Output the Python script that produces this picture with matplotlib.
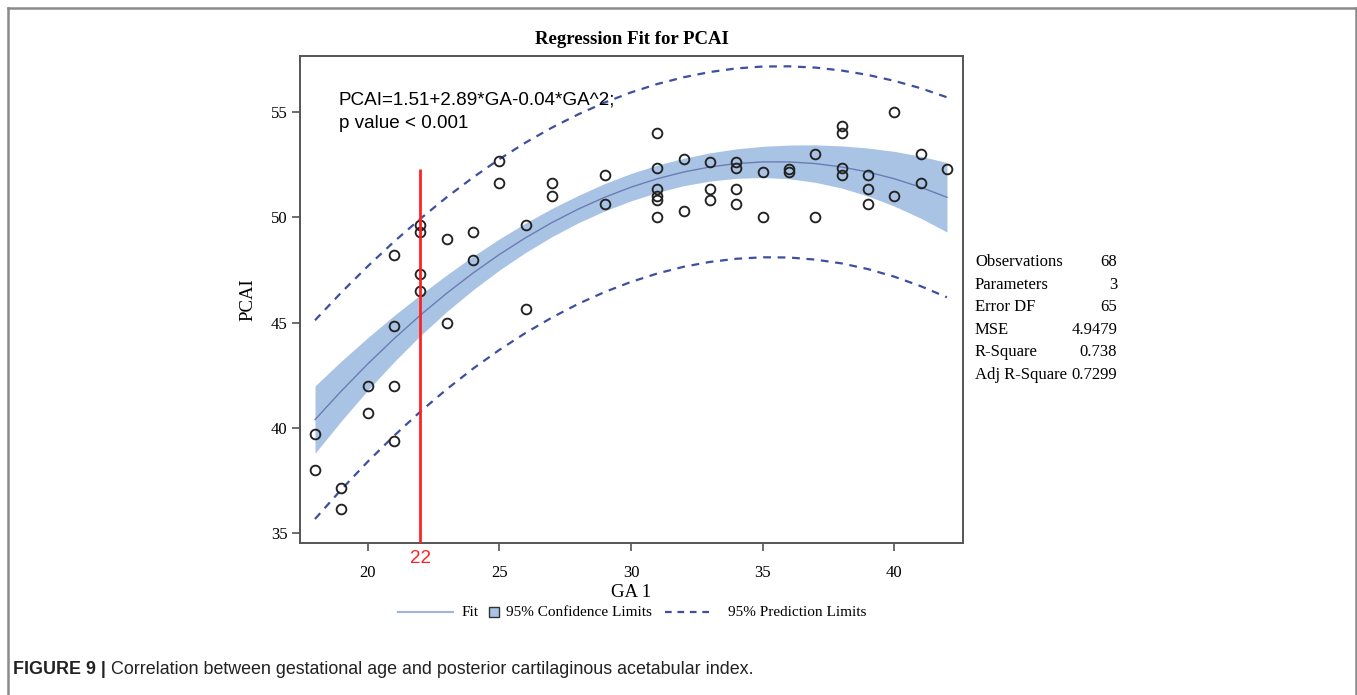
import matplotlib
matplotlib.use('Agg')
import matplotlib.pyplot as plt
from matplotlib.lines import Line2D
from matplotlib.patches import Rectangle
import matplotlib.transforms as mtransforms

ga_obs = [18, 18, 19, 19, 20, 20, 21, 21, 21, 21, 22, 22, 22, 22, 23, 23, 24, 24,
          25, 25, 26, 26, 27, 27, 29, 29, 31, 31, 31, 31, 31, 31, 32, 32, 33, 33, 33,
          34, 34, 34, 34, 35, 35, 36, 36, 37, 37, 38, 38, 38, 38, 39, 39, 39,
          40, 40, 41, 41, 42]
pcai_obs = [39.7, 38.0, 37.15, 36.15, 42.0, 40.7, 48.2, 44.85, 42.0, 39.4,
            49.65, 49.3, 47.3, 46.5, 49.0, 45.0, 49.3, 48.0,
            52.7, 51.65, 49.65, 45.65, 51.65, 51.0, 52.0, 50.65,
            54.0, 52.35, 51.35, 51.0, 50.85, 50.0, 52.8, 50.3, 52.65, 51.35, 50.85,
            52.65, 52.35, 51.35, 50.65, 52.15, 50.0, 52.3, 52.15, 53.0, 50.0,
            54.35, 54.0, 52.35, 52.0, 52.0, 51.35, 50.65,
            55.0, 51.0, 53.0, 51.65, 52.3]

# fitted curve, half width of confidence and prediction limits (read per week)
ga_grid = list(range(18, 43))
fit = [40.40, 41.76, 43.04, 44.24, 45.36, 46.40, 47.36, 48.24, 49.04, 49.76, 50.40, 50.96, 51.44,
       51.84, 52.16, 52.40, 52.56, 52.64, 52.64, 52.56, 52.40, 52.16, 51.84, 51.44, 50.96]
ci_half = [1.60, 1.42, 1.25, 1.10, 0.97, 0.87, 0.80, 0.74, 0.70, 0.67, 0.65, 0.65, 0.65,
           0.65, 0.65, 0.67, 0.70, 0.74, 0.80, 0.89, 1.00, 1.14, 1.30, 1.47, 1.65]
pi_half = [4.72, 4.68, 4.64, 4.61, 4.58, 4.56, 4.54, 4.53, 4.52, 4.51, 4.50, 4.50, 4.50,
           4.50, 4.50, 4.51, 4.52, 4.53, 4.54, 4.56, 4.58, 4.61, 4.65, 4.70, 4.75]

ci_lo = [f - h for f, h in zip(fit, ci_half)]
ci_hi = [f + h for f, h in zip(fit, ci_half)]
pi_lo = [f - h for f, h in zip(fit, pi_half)]
pi_hi = [f + h for f, h in zip(fit, pi_half)]

cutoff_ga = 22
cutoff_top = 52.3

stat_names = ['Observations', 'Parameters', 'Error DF', 'MSE', 'R-Square', 'Adj R-Square']
stat_values = ['68', '3', '65', '4.9479', '0.738', '0.7299']

serif = 'Liberation Serif'
sans = 'Liberation Sans'

W, H = 1357, 695
fig = plt.figure(figsize=(W / 100, H / 100), dpi=100)
ax = fig.add_axes([300 / W, 1 - 543 / H, 663 / W, 487 / H])

band_col = '#a9c3e4'
dash_col = '#3d4f9e'
fit_col = '#6a7db3'
dash = (0, (3.5, 3))

ax.fill_between(ga_grid, ci_lo, ci_hi, color=band_col, lw=0, zorder=1)
ax.plot(ga_grid, fit, color=fit_col, lw=1.0, zorder=2)
ax.plot(ga_grid, pi_lo, color=dash_col, lw=1.6, ls=dash, zorder=2)
ax.plot(ga_grid, pi_hi, color=dash_col, lw=1.6, ls=dash, zorder=2)
ax.plot(ga_obs, pcai_obs, 'o', ms=7, mfc='none', mec='#222222', mew=1.35, zorder=3)

ax.set_xlim(17.43, 42.61)
ax.set_ylim(34.54, 57.67)
ax.vlines(cutoff_ga, ax.get_ylim()[0], cutoff_top, color='#ff2222', lw=2, zorder=4)

trans = mtransforms.blended_transform_factory(ax.transData, ax.transAxes)
ax.text(cutoff_ga, -0.031, str(cutoff_ga), transform=trans, color='#ff2222',
        fontsize=13.5, family=sans, ha='center', va='center')

ax.set_xticks([20, 25, 30, 35, 40])
ax.set_yticks([35, 40, 45, 50, 55])
for s in ax.spines.values():
    s.set_color('#555555')
    s.set_linewidth(1.4)
ax.tick_params(direction='out', length=6, width=1.2, color='#555555', labelsize=12)
ax.tick_params(axis='x', pad=10)
ax.tick_params(axis='y', pad=3)
for lab in ax.get_xticklabels() + ax.get_yticklabels():
    lab.set_family(serif)

ax.set_xlabel('GA 1', family=serif, fontsize=13.5, labelpad=2)
ax.set_ylabel('PCAI', family=serif, fontsize=13.5, labelpad=10)
ax.set_title('Regression Fit for PCAI', family=serif, fontsize=13.5, fontweight='bold', pad=9)

ax.text(39 / 663, 1 - (100 - 56) / 487, 'PCAI=1.51+2.89*GA-0.04*GA^2;',
        transform=ax.transAxes, family=sans, fontsize=13.6, va='center', ha='left')
ax.text(39 / 663, 1 - (124 - 56) / 487, 'p value < 0.001',
        transform=ax.transAxes, family=sans, fontsize=13.6, va='center', ha='left')

# legend under the axis, laid out by hand like the SAS one
ly = 1 - 612 / H
fig.add_artist(Line2D([398 / W, 453 / W], [ly, ly], color='#9fb4d8', lw=1.5, transform=fig.transFigure))
fig.text(462 / W, ly, 'Fit', family=serif, fontsize=11, va='center', ha='left')
fig.add_artist(Rectangle((489 / W, 1 - 617 / H), 10 / W, 10 / H, facecolor=band_col,
                         edgecolor='#333333', lw=1, transform=fig.transFigure))
fig.text(506 / W, ly, '95% Confidence Limits', family=serif, fontsize=11, va='center', ha='left')
fig.add_artist(Line2D([665 / W, 713 / W], [ly, ly], color=dash_col, lw=1.6, ls=(0, (3, 2.6)),
                      transform=fig.transFigure))
fig.text(728 / W, ly, '95% Prediction Limits', family=serif, fontsize=11, va='center', ha='left')

# stats table
for i, (n, v) in enumerate(zip(stat_names, stat_values)):
    y = 1 - (262 + i * 22.6) / H
    fig.text(975 / W, y, n, family=serif, fontsize=12, va='center', ha='left')
    fig.text(1117 / W, y, v, family=serif, fontsize=12, va='center', ha='right')

# outer frame of the figure panel
fcol = '#8a8a8a'
fig.add_artist(Line2D([8 / W, 8 / W], [0, 1 - 8 / H], color=fcol, lw=1.8, transform=fig.transFigure))
fig.add_artist(Line2D([8 / W, 1356 / W], [1 - 8 / H, 1 - 8 / H], color=fcol, lw=1.8, transform=fig.transFigure))
fig.add_artist(Line2D([1356 / W, 1356 / W], [0, 1 - 8 / H], color=fcol, lw=1.8, transform=fig.transFigure))

# caption
t = fig.text(13 / W, 1 - 670 / H, 'FIGURE 9 | ', family=sans, fontsize=12.9, fontweight='bold',
             va='center', ha='left', color='#222222')
fig.canvas.draw()
bb = t.get_window_extent()
fig.text(bb.x1 / W, 1 - 670 / H, 'Correlation between gestational age and posterior cartilaginous acetabular index.',
         family=sans, fontsize=12.9, va='center', ha='left', color='#222222')

fig.savefig('out.png', dpi=100)
